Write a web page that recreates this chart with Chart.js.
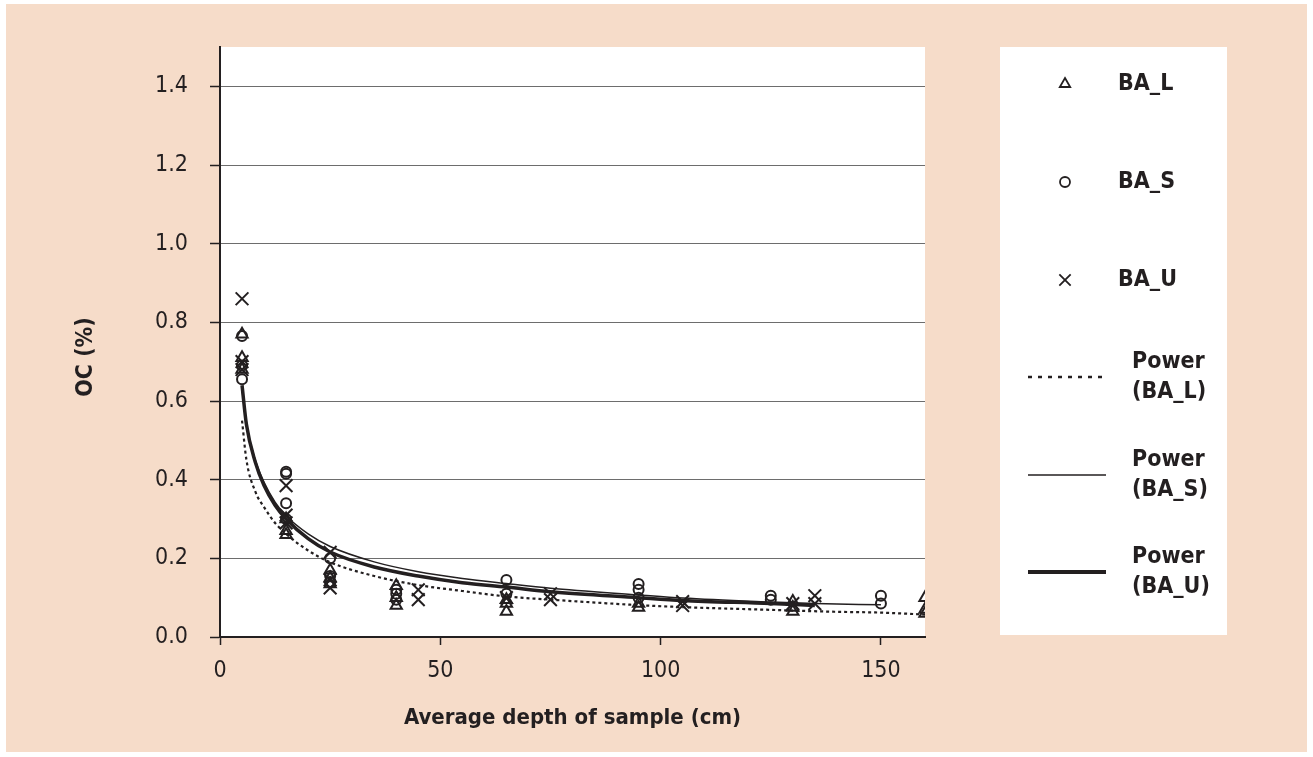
<!DOCTYPE html>
<html>
<head>
<meta charset="utf-8">
<script src="https://cdn.jsdelivr.net/npm/chart.js@4.4.1/dist/chart.umd.min.js"></script>
<style>
  html, body { margin: 0; padding: 0; background: #fff; }
  #panel { position: absolute; left: 6px; top: 4px; width: 1301px; height: 748px; background: #f6dcc9; }
  #wrap { position: absolute; left: 0; top: 0; width: 1313px; height: 757px; }
</style>
</head>
<body>
<div id="panel"></div>
<div id="wrap"><canvas id="chart" width="1313" height="757"></canvas></div>
<script>
const FONT = "'Liberation Sans Narrow', 'DejaVu Sans Condensed', 'Liberation Sans', sans-serif";
const INK = "#231f20";

// BA_L (triangles)
const baLDepth = [5, 5, 5, 15, 15, 15, 25, 25, 25, 40, 40, 40, 65, 65, 65, 95, 95, 130, 130, 130, 160, 160, 160];
const baLOC = [0.77, 0.71, 0.68, 0.30, 0.27, 0.26, 0.17, 0.15, 0.135, 0.13, 0.10, 0.08, 0.095, 0.085, 0.065, 0.085, 0.075, 0.09, 0.075, 0.065, 0.10, 0.07, 0.06];

// BA_S (circles)
const baSDepth = [5, 5, 5, 15, 15, 15, 15, 25, 25, 25, 40, 40, 40, 65, 65, 95, 95, 95, 125, 125, 150, 150];
const baSOC = [0.765, 0.69, 0.655, 0.42, 0.415, 0.34, 0.30, 0.20, 0.155, 0.14, 0.12, 0.11, 0.095, 0.145, 0.11, 0.135, 0.12, 0.10, 0.105, 0.095, 0.105, 0.085];

// BA_U (crosses)
const baUDepth = [5, 5, 5, 15, 15, 15, 25, 25, 25, 45, 45, 65, 75, 75, 105, 105, 130, 135, 135];
const baUOC = [0.86, 0.70, 0.68, 0.385, 0.31, 0.29, 0.215, 0.145, 0.125, 0.12, 0.095, 0.10, 0.11, 0.095, 0.09, 0.08, 0.085, 0.105, 0.085];

// power trend lines
const powLDepth = [5, 6, 8, 10, 12.5, 15, 20, 25, 35, 45, 55, 65, 75, 95, 105, 125, 140, 150, 160];
const powLOC = [0.55, 0.45, 0.37, 0.33, 0.29, 0.262, 0.22, 0.19, 0.155, 0.132, 0.117, 0.103, 0.095, 0.081, 0.076, 0.069, 0.064, 0.062, 0.057];
const powSDepth = [5, 6, 8, 10, 12.5, 15, 20, 25, 35, 45, 55, 65, 75, 95, 105, 125, 135, 150];
const powSOC = [0.63, 0.54, 0.45, 0.393, 0.343, 0.308, 0.262, 0.23, 0.191, 0.166, 0.149, 0.136, 0.124, 0.107, 0.099, 0.089, 0.085, 0.082];
const powUDepth = [5, 6, 8, 10, 12.5, 15, 20, 25, 35, 45, 55, 65, 75, 95, 105, 125, 135];
const powUOC = [0.64, 0.54, 0.445, 0.385, 0.335, 0.30, 0.25, 0.216, 0.178, 0.155, 0.138, 0.127, 0.115, 0.10, 0.093, 0.085, 0.08];

const xTicks = [0, 50, 100, 150];
const yTicks = [0, 0.2, 0.4, 0.6, 0.8, 1.0, 1.2, 1.4];

const pts = (xs, ys) => xs.map((x, i) => ({ x: x, y: ys[i] }));

const trend = (label, xs, ys, width, dash) => ({
  label: label,
  data: pts(xs, ys),
  showLine: true,
  pointRadius: 0,
  borderColor: INK,
  borderWidth: width,
  borderDash: dash,
  cubicInterpolationMode: "monotone",
  fill: false,
});

const marks = (label, xs, ys, style, radius) => ({
  label: label,
  data: pts(xs, ys),
  pointStyle: style,
  pointRadius: radius,
  pointBorderWidth: 2,
  pointBorderColor: INK,
  pointBackgroundColor: "rgba(0,0,0,0)",
  showLine: false,
});

const backdrop = {
  id: "backdrop",
  beforeDraw(chart) {
    const { ctx, chartArea: a } = chart;
    ctx.save();
    ctx.fillStyle = "#fff";
    ctx.fillRect(a.left, a.top, a.right - a.left, a.bottom - a.top);
    ctx.fillRect(1000, 47, 227, 588);
    ctx.restore();
  },
  afterDraw(chart) {
    const ctx = chart.ctx;
    ctx.save();
    ctx.fillStyle = INK;
    ctx.strokeStyle = INK;
    ctx.font = "bold 23px " + FONT;
    ctx.textBaseline = "middle";

    // y axis title
    ctx.save();
    ctx.translate(86, 357);
    ctx.rotate(-Math.PI / 2);
    ctx.textAlign = "center";
    ctx.fillText("OC (%)", 0, 0);
    ctx.restore();

    // legend
    ctx.textAlign = "left";
    const symbols = [["triangle", 6, 84, "BA_L"], ["circle", 5, 182, "BA_S"], ["crossRot", 8, 280, "BA_U"]];
    symbols.forEach(([style, r, y, text]) => {
      ctx.lineWidth = 1.8;
      ctx.fillStyle = "rgba(0,0,0,0)";
      Chart.helpers.drawPoint(ctx, { pointStyle: style, radius: r, borderWidth: 1.8, rotation: 0 }, 1065, y);
      ctx.fillStyle = INK;
      ctx.fillText(text, 1118, y);
    });
    const lines = [[377, 2.5, [4, 6], "(BA_L)"], [475, 1.5, [], "(BA_S)"], [572, 4, [], "(BA_U)"]];
    lines.forEach(([y, w, dash, text]) => {
      ctx.beginPath();
      ctx.setLineDash(dash);
      ctx.lineWidth = w;
      ctx.moveTo(1028, y);
      ctx.lineTo(1106, y);
      ctx.stroke();
      ctx.setLineDash([]);
      ctx.fillText("Power", 1132, y - 15);
      ctx.fillText(text, 1132, y + 15);
    });
    ctx.restore();
  },
};

new Chart(document.getElementById("chart"), {
  type: "scatter",
  data: {
    datasets: [
      trend("Power (BA_U)", powUDepth, powUOC, 3.5, []),
      trend("Power (BA_S)", powSDepth, powSOC, 1.5, []),
      trend("Power (BA_L)", powLDepth, powLOC, 2.2, [3, 3]),
      marks("BA_L", baLDepth, baLOC, "triangle", 6.5),
      marks("BA_S", baSDepth, baSOC, "circle", 5),
      marks("BA_U", baUDepth, baUOC, "crossRot", 9),
    ],
  },
  options: {
    responsive: false,
    devicePixelRatio: 1,
    animation: false,
    layout: { padding: { left: 0, top: 47, right: 388, bottom: 0 } },
    plugins: { legend: { display: false }, tooltip: { enabled: false } },
    scales: {
      x: {
        type: "linear",
        min: 0,
        max: 160,
        afterBuildTicks: s => { s.ticks = xTicks.map(v => ({ value: v })); },
        afterFit: s => { s.height = 120; },
        grid: { drawOnChartArea: false, tickLength: 8, tickColor: INK, tickWidth: 1.5 },
        border: { color: INK, width: 2 },
        ticks: { color: INK, padding: 12, maxRotation: 0, font: { family: FONT, size: 23 } },
        title: {
          display: true,
          text: "Average depth of sample (cm)",
          color: INK,
          font: { family: FONT, size: 22, weight: "bold" },
          padding: { top: 0, bottom: 26 },
        },
      },
      y: {
        min: 0,
        max: 1.5,
        afterBuildTicks: s => { s.ticks = yTicks.map(v => ({ value: v })); },
        afterFit: s => { s.width = 220; },
        grid: { color: "#6d6d6d", lineWidth: 1, tickLength: 10, tickColor: INK, tickWidth: 1.5 },
        border: { color: INK, width: 2 },
        ticks: { color: INK, padding: 22, font: { family: FONT, size: 23 }, callback: v => v.toFixed(1) },
      },
    },
  },
  plugins: [backdrop],
});
</script>
</body>
</html>
